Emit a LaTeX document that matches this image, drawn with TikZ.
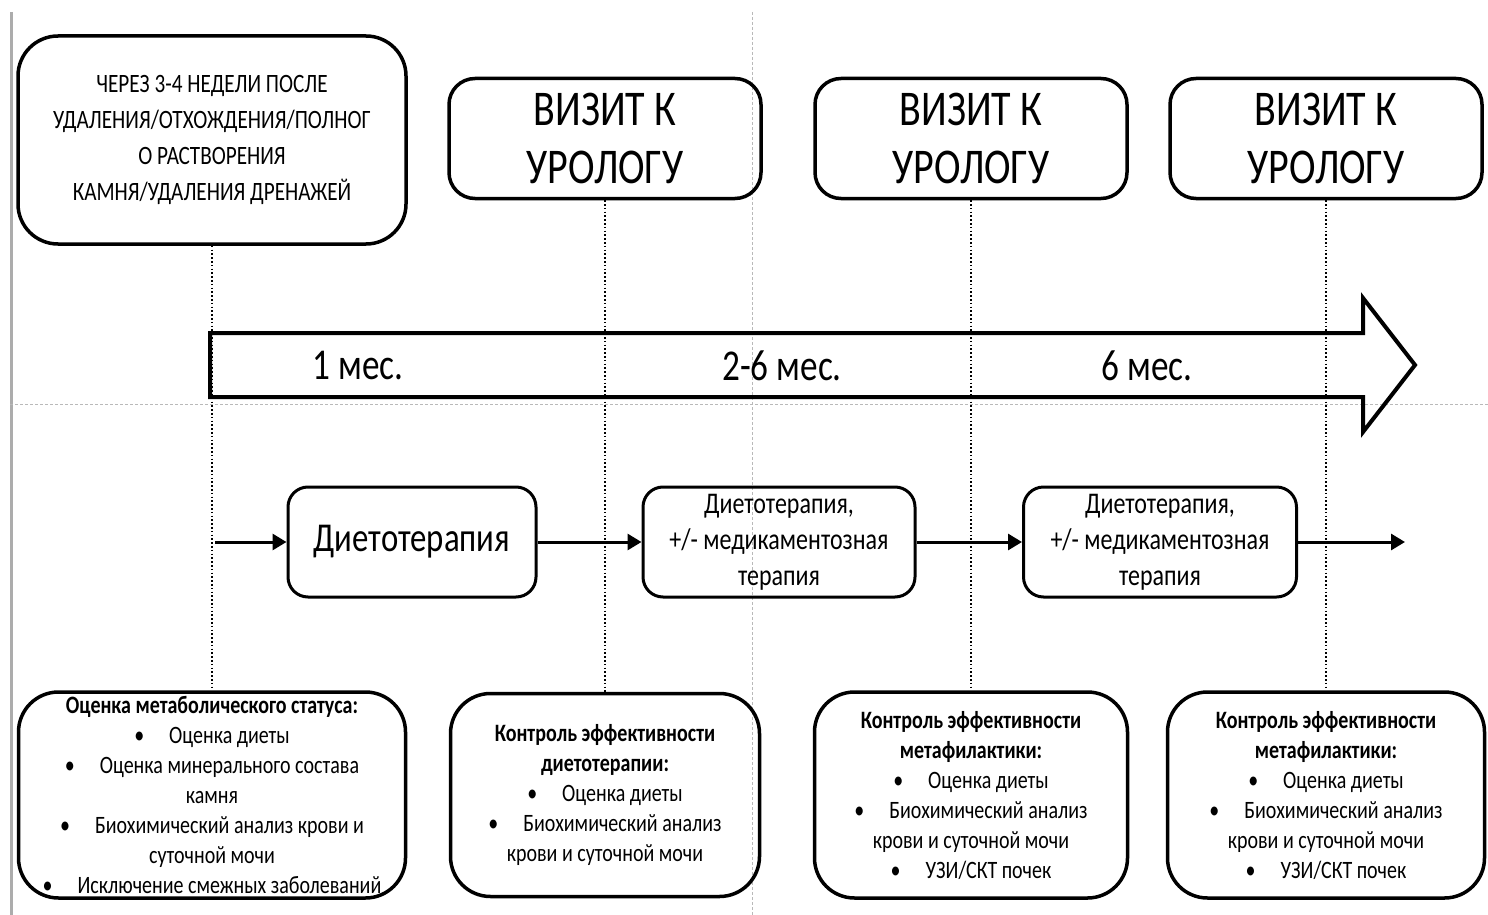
\documentclass[tikz,border=0pt]{standalone}
\usepackage{fontspec}
\setmainfont{Carlito}[FakeStretch=0.8]
\usetikzlibrary{arrows.meta}

\begin{document}
\begin{tikzpicture}[x=1pt, y=-1pt,
  box/.style={draw, line width=3.5pt, align=center, inner sep=0pt},
  visit/.style={box, rounded corners=26pt, minimum width=312pt, minimum height=120pt,
    font=\fontsize{50}{58}\selectfont},
  therapy/.style={box, line width=3pt, rounded corners=20pt, minimum height=110pt,
    font=\fontsize{30}{36}\selectfont},
  check/.style={box, rounded corners=40pt, minimum height=206pt,
    font=\fontsize{25}{30}\selectfont},
  period/.style={font=\fontsize{44}{50}\selectfont},
  flow/.style={line width=3pt, -{Triangle[length=14pt,width=16pt]}},
  link/.style={line width=2.2pt, dash pattern=on 1.6pt off 2.2pt},
  pageline/.style={line width=0.8pt, gray!55, dash pattern=on 3pt off 2pt}]

  \useasboundingbox (0,0) rectangle (1488,915);

  %%-- PAGE GUIDES --%%
  \draw[line width=3pt, gray!65] (11,12) -- (11,915);
  \draw[pageline] (752,12) -- (752,915);
  \draw[pageline] (10,404) -- (1488,404);

  %%-- TOP ROW --%%
  \node[box, rounded corners=40pt, minimum width=388pt, minimum height=208pt,
    font=\fontsize{26.5}{36}\selectfont] (start) at (212,140)
    {ЧЕРЕЗ 3-4 НЕДЕЛИ ПОСЛЕ\\ УДАЛЕНИЯ/ОТХОЖДЕНИЯ/ПОЛНОГ\\ О РАСТВОРЕНИЯ\\ КАМНЯ/УДАЛЕНИЯ ДРЕНАЖЕЙ};
  \foreach \vx/\vn in {605/visitA, 971/visitB, 1326/visitC} {
    \node[visit] (\vn) at (\vx,138.5) {ВИЗИТ К\\ УРОЛОГУ};
  }

  %%-- TIME ARROW --%%
  \draw[line width=4pt, line join=miter]
    (210,333) -- (1363,333) -- (1363,298) -- (1415,365) -- (1363,432)
    -- (1363,397) -- (210,397) -- cycle;
  \node[period] (month1) at (358,366) {1 мес.};
  \node[period] (month2) at (782,366) {2-6 мес.};
  \node[period] (month3) at (1147,366) {6 мес.};

  %%-- THERAPY ROW (y = 542) --%%
  \coordinate (flowin) at (215,542);
  \node[therapy, minimum width=248pt, font=\fontsize{41}{46}\selectfont] (diet) at (412,542) {Диетотерапия};
  \node[therapy, minimum width=272pt] (drugA) at (779,542) {Диетотерапия,\\ +/- медикаментозная\\ терапия};
  \node[therapy, minimum width=273pt] (drugB) at (1160,542) {Диетотерапия,\\ +/- медикаментозная\\ терапия};
  \coordinate (flowout) at (1405,542);
  \draw[flow] (flowin) -- (diet);
  \draw[flow] (diet) -- (drugA);
  \draw[flow] (drugA) -- (drugB);
  \draw[flow] (drugB) -- (flowout);

  %%-- BOTTOM ROW --%%
  \node[check, minimum width=387pt] (checkA) at (212,795)
    {\textbf{Оценка метаболического статуса:}\\ •\quad Оценка диеты\\
     •\quad Оценка минерального состава\\ камня\\ •\quad Биохимический анализ крови и\\
     суточной мочи\\ •\quad Исключение смежных заболеваний};
  \node[check, minimum width=309pt, minimum height=203pt] (checkB) at (605,795)
    {\textbf{Контроль эффективности}\\ \textbf{диетотерапии:}\\ •\quad Оценка диеты\\
     •\quad Биохимический анализ\\ крови и суточной мочи};
  \node[check, minimum width=313pt] (checkC) at (971,795)
    {\textbf{Контроль эффективности}\\ \textbf{метафилактики:}\\ •\quad Оценка диеты\\
     •\quad Биохимический анализ\\ крови и суточной мочи\\ •\quad УЗИ/СКТ почек};
  \node[check, minimum width=317pt] (checkD) at (1326,795)
    {\textbf{Контроль эффективности}\\ \textbf{метафилактики:}\\ •\quad Оценка диеты\\
     •\quad Биохимический анализ\\ крови и суточной мочи\\ •\quad УЗИ/СКТ почек};

  %%-- DOTTED LINKS --%%
  \draw[link] (start) -- (checkA);
  \draw[link] (visitA) -- (checkB);
  \draw[link] (visitB) -- (checkC);
  \draw[link] (visitC) -- (checkD);

\end{tikzpicture}
\end{document}
